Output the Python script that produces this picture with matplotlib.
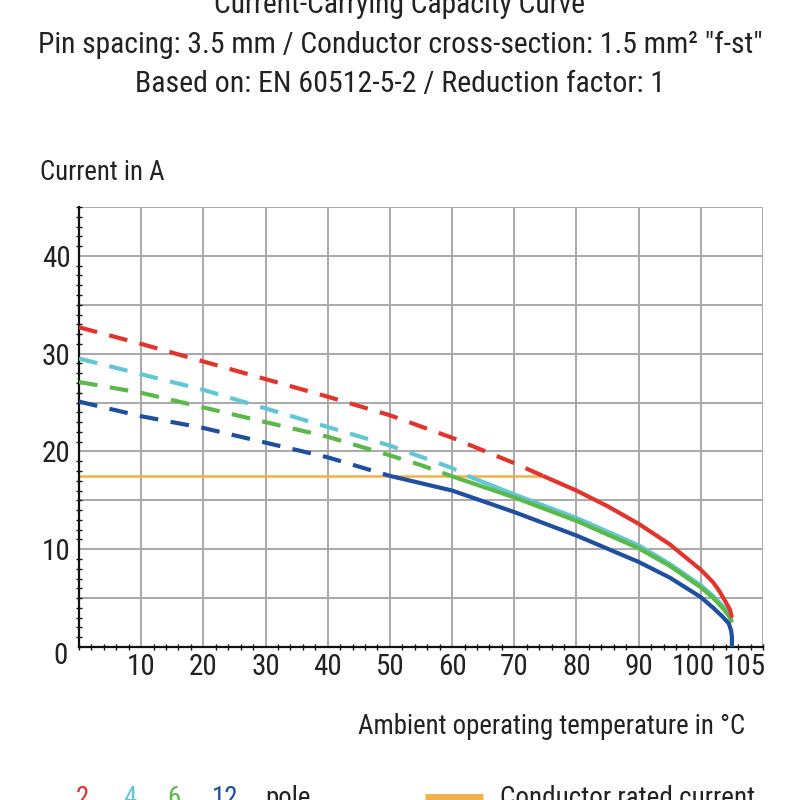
import matplotlib
matplotlib.use("Agg")
import matplotlib.pyplot as plt
import numpy as np
import os
from matplotlib import font_manager as fm
from matplotlib.transforms import ScaledTranslation

# ---------------- data ----------------
title_lines = ["Current-Carrying Capacity Curve",
               "Pin spacing: 3.5 mm / Conductor cross-section: 1.5 mm² \"f-st\"",
               "Based on: EN 60512-5-2 / Reduction factor: 1"]
y_label = "Current in A"
x_label = "Ambient operating temperature in °C"

rated_current = 17.5
rated_temp_end = 74.6

pole_labels = ["2", "4", "6", "12"]

red_t = [0, 10, 20, 30, 40, 50, 60, 70, 74.6, 80, 85, 90, 95, 100, 102, 103, 104, 104.7, 105]
red_i = [32.7, 31.0, 29.2, 27.4, 25.6, 23.7, 21.4, 18.8, 17.5, 16.0, 14.4, 12.6, 10.5, 7.9, 6.6, 5.7, 4.6, 3.8, 3.0]

cyan_t = [0, 10, 20, 30, 40, 50, 60, 62.5, 70, 80, 90, 95, 100, 102, 103.5, 104.5, 105]
cyan_i = [29.5, 27.9, 26.3, 24.4, 22.5, 20.6, 18.3, 17.5, 15.6, 13.2, 10.4, 8.5, 6.3, 5.2, 4.2, 3.4, 2.6]

green_t = [0, 10, 20, 30, 40, 50, 55, 59.8, 70, 80, 90, 95, 100, 102, 103.5, 104.5, 105]
green_i = [27.1, 26.0, 24.5, 23.0, 21.5, 19.6, 18.6, 17.5, 15.3, 12.9, 10.1, 8.3, 6.1, 5.0, 4.0, 3.2, 2.5]

blue_t = [0, 10, 20, 30, 40, 50, 60, 70, 80, 90, 95, 100, 102, 103.5, 104.5, 104.9, 105, 105]
blue_i = [25.1, 23.6, 22.4, 20.9, 19.4, 17.5, 16.0, 13.8, 11.4, 8.7, 7.1, 5.1, 4.0, 3.1, 2.4, 1.6, 1.0, 0.0]

x_ticks = [10, 20, 30, 40, 50, 60, 70, 80, 90, 100, 105]
y_ticks = [0, 10, 20, 30, 40]

# ---------------- font: look for a condensed face ----------------
def find_condensed():
    files = fm.findSystemFonts()
    prefs = ["RobotoCondensed-Regular", "LiberationSansNarrow-Regular",
             "DejaVuSansCondensed.ttf", "OpenSans_Condensed-Regular",
             "OpenSansCondensed"]
    for p in prefs:
        for f in files:
            if p.lower() in os.path.basename(f).lower():
                return f
    for f in files:
        b = os.path.basename(f).lower()
        if ("condensed" in b or "narrow" in b) and "bold" not in b and "oblique" not in b and "italic" not in b:
            return f
    return None

cfile = find_condensed()
if cfile:
    FP = fm.FontProperties(fname=cfile)
else:
    FP = fm.FontProperties(family="Roboto")


def fp(size):
    p = FP.copy()
    p.set_size(size)
    return p


RED = "#e2342c"
CYAN = "#62c6d4"
GREEN = "#5bb94a"
BLUE = "#1f4f9e"
ORANGE = "#f2b04c"
GRID = "#a9a9a9"
TXT = "#222222"

fig = plt.figure(figsize=(8, 8), dpi=100)
ax = fig.add_axes([79 / 800, 1 - 647 / 800, (763 - 79) / 800, (647 - 207) / 800])
ax.set_xlim(0, 110)
ax.set_ylim(0, 45)

for gx in range(10, 111, 10):
    ax.axvline(gx, color=GRID, lw=1.4, zorder=1)
for gy in range(5, 46, 5):
    ax.axhline(gy, color=GRID, lw=1.4, zorder=1)

for s in ["top", "right"]:
    ax.spines[s].set_visible(False)
for s in ["left", "bottom"]:
    ax.spines[s].set_color("#111111")
    ax.spines[s].set_linewidth(1.6)

LW = 3.0
DASH = (4.5, 3.0)


def draw(t, i, color, z):
    t = np.asarray(t, float)
    i = np.asarray(i, float)
    above = i >= rated_current - 1e-9
    below = i <= rated_current + 1e-9
    ax.plot(t[above], i[above], color=color, lw=LW, dashes=DASH,
            solid_capstyle="butt", dash_capstyle="butt", zorder=z)
    ax.plot(t[below], i[below], color=color, lw=LW, solid_capstyle="butt",
            solid_joinstyle="round", zorder=z)


ax.plot([0, rated_temp_end], [rated_current, rated_current], color=ORANGE, lw=1.8, zorder=2)
draw(red_t, red_i, RED, 5)
draw(cyan_t, cyan_i, CYAN, 3)
draw(green_t, green_i, GREEN, 4)
draw(blue_t, blue_i, BLUE, 6)

ax.set_xticks(x_ticks)
ax.set_xticklabels([str(v) for v in x_ticks])
ax.set_yticks(y_ticks)
ax.set_yticklabels([str(v) for v in y_ticks])
ax.set_xticks(np.arange(0, 111, 2), minor=True)
ax.set_yticks(np.arange(0, 46, 1), minor=True)
ax.tick_params(axis="both", which="major", length=0, labelcolor=TXT)
ax.tick_params(axis="x", which="major", pad=4)
ax.tick_params(axis="y", which="major", pad=6)
ax.tick_params(axis="both", which="minor", direction="inout", length=4, width=1.0, color="#111111")

TICK_SIZE = 21
for lab in ax.get_xticklabels() + ax.get_yticklabels():
    lab.set_fontproperties(fp(TICK_SIZE))

labels = ax.get_xticklabels()
labels[-2].set_transform(labels[-2].get_transform() + ScaledTranslation(-8 / 100, 0, fig.dpi_scale_trans))
labels[-1].set_transform(labels[-1].get_transform() + ScaledTranslation(12 / 100, 0, fig.dpi_scale_trans))
ylabels = ax.get_yticklabels()
ylabels[0].set_transform(ylabels[0].get_transform() + ScaledTranslation(-3 / 100, -6 / 100, fig.dpi_scale_trans))

renderer = fig.canvas.get_renderer()


def fitted_text(x, y, s, width_px, base, **kw):
    t = fig.text(x, y, s, fontproperties=fp(base), **kw)
    w = t.get_window_extent(renderer).width
    size = base * width_px / w
    size = min(size, base * 1.25)
    t.set_fontproperties(fp(size))
    return t


baselines = [13, 53, 92]
widths = [None, 725, 530]
for line, b, w in zip(title_lines, baselines, widths):
    if w is None:
        continue
    fitted_text(0.5, 1 - b / 800, line, w, 24, ha="center", va="baseline", color=TXT)
# first line: same size as line 2 (mostly cut off at the top)
size2 = fig.texts[0].get_fontproperties().get_size()
fig.text(0.5, 1 - baselines[0] / 800, title_lines[0], fontproperties=fp(size2),
         ha="center", va="baseline", color=TXT)

fitted_text(40 / 800, 1 - 180 / 800, y_label, 125, 19, ha="left", va="baseline", color=TXT)
fitted_text(745 / 800, 1 - 734 / 800, x_label, 388, 19, ha="right", va="baseline", color=TXT)

leg_y = 1 - 806 / 800
leg_size = fig.texts[-1].get_fontproperties().get_size()
xs = [76, 123, 167, 212]
for lab, col, x0 in zip(pole_labels, [RED, CYAN, GREEN, BLUE], xs):
    fig.text(x0 / 800, leg_y, lab, ha="left", va="baseline", fontproperties=fp(leg_size), color=col)
fig.text(265 / 800, leg_y, "pole", ha="left", va="baseline", fontproperties=fp(leg_size), color=TXT)
fig.add_artist(plt.Line2D([425 / 800, 483 / 800], [1 - 797 / 800, 1 - 797 / 800],
                          color=ORANGE, lw=5, solid_capstyle="butt", transform=fig.transFigure))
fitted_text(500 / 800, leg_y, "Conductor rated current", 255, 19, ha="left", va="baseline", color=TXT)

fig.savefig("out.png", dpi=100)
